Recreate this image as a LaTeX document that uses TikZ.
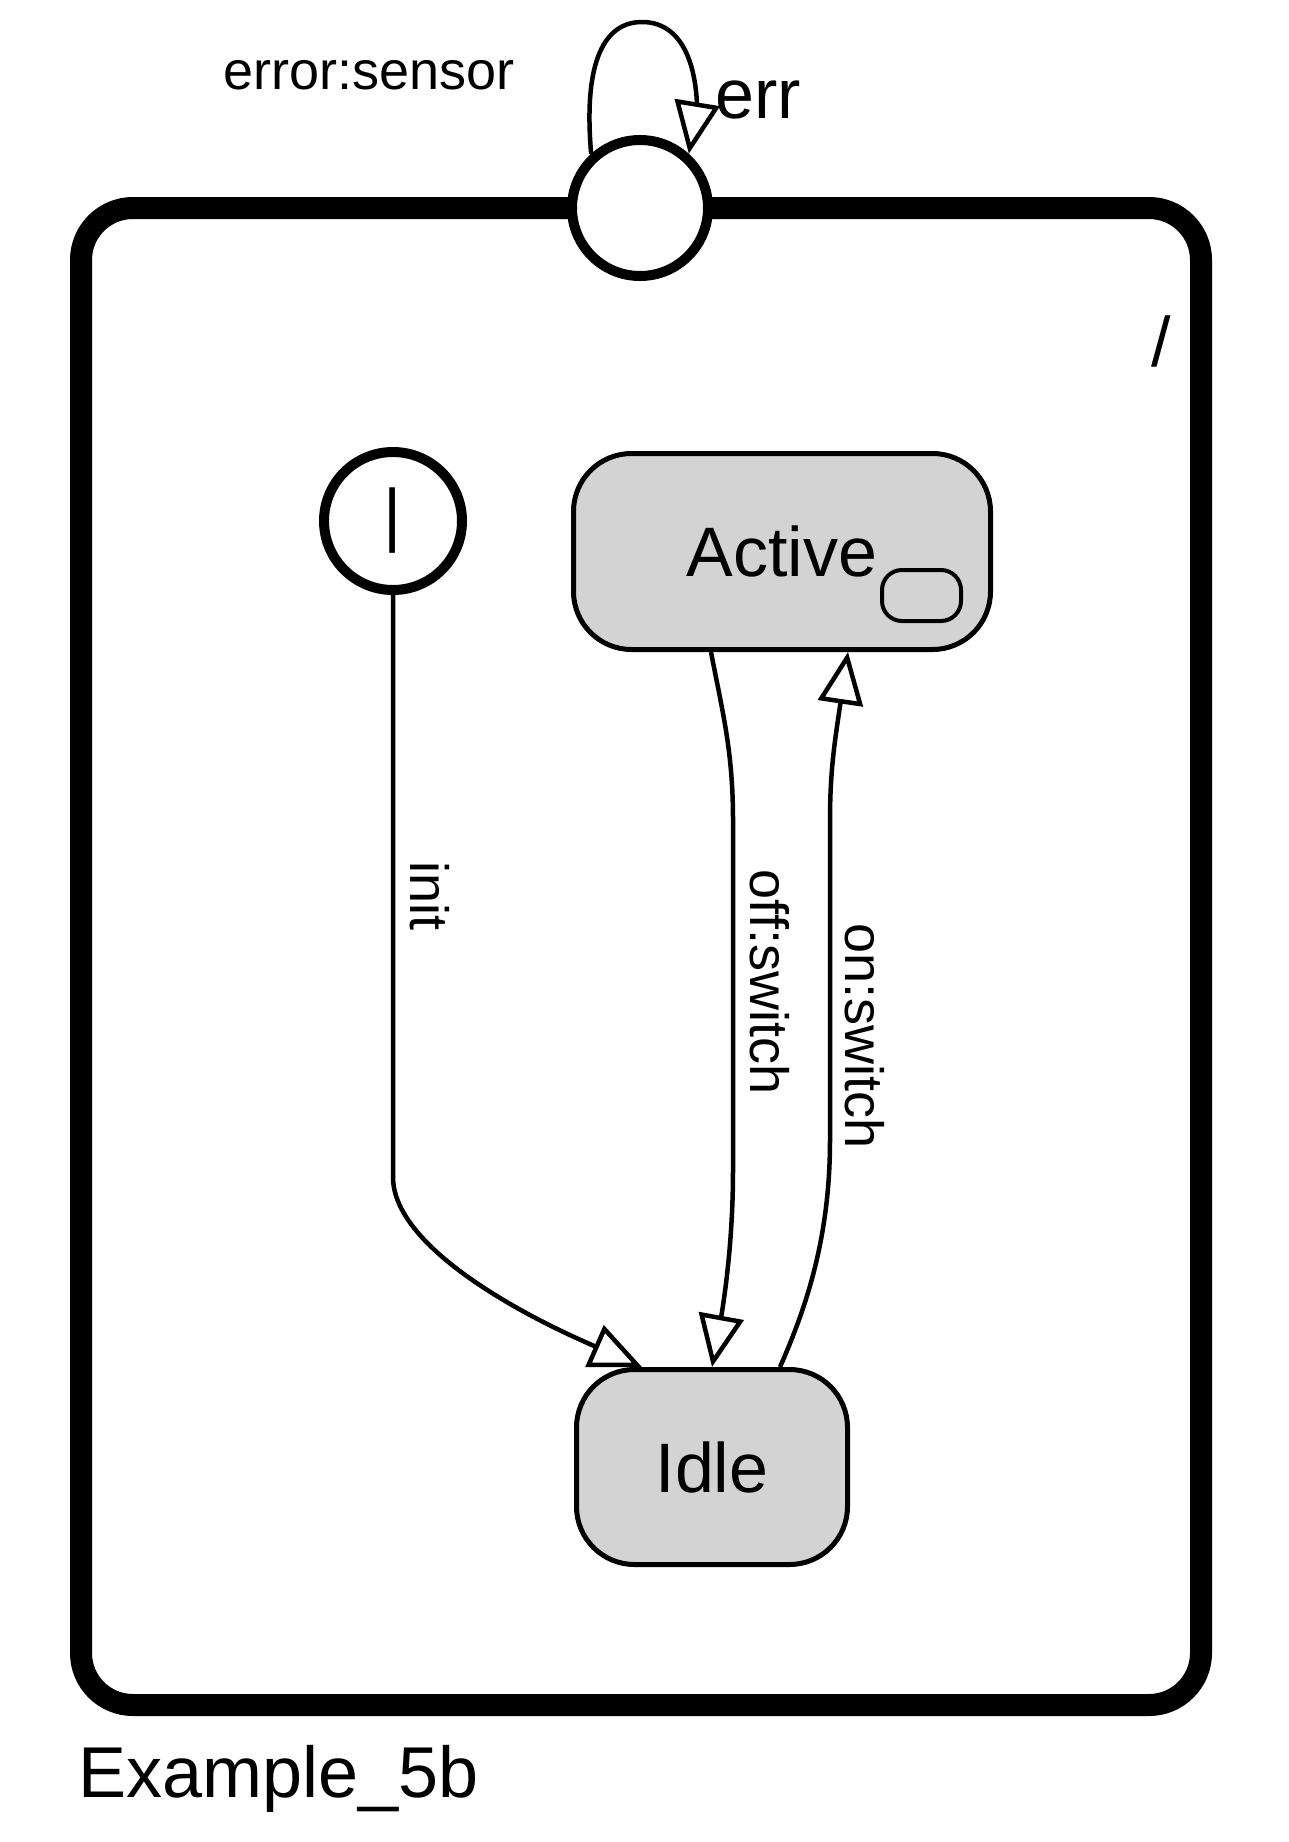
\documentclass[tikz,border=0pt]{standalone}
\usepackage{fontspec}
\setmainfont{Liberation Sans}
\usetikzlibrary{arrows.meta,calc}
\definecolor{stategray}{HTML}{D3D3D3}
\begin{document}
\begin{tikzpicture}[x=1pt,y=-1pt,
  state/.style={draw, line width=5pt, fill=stategray, rounded corners=58pt, inner sep=0pt},
  conn/.style={line width=4.5pt, -{Triangle[length=52pt,width=45pt,fill=white]}},
  big/.style={font=\fontsize{70pt}{84pt}\selectfont},
  lbl/.style={font=\fontsize{54pt}{64pt}\selectfont, inner sep=0pt},
]
\useasboundingbox (0,0) rectangle (1288,1842);
% outer composite state
\node[draw, line width=22pt, rounded corners=52pt, minimum width=1120pt, minimum height=1497pt, inner sep=0pt] (outer) at (641,956.5) {};
% exit point
\node[draw, circle, line width=10pt, fill=white, minimum size=136pt, inner sep=0pt] (ep) at (640,208) {};
% initial state
\node[draw, circle, line width=10pt, fill=white, minimum size=138pt, inner sep=0pt, big] (start) at (393,521) {|};
% states
\node[state, minimum width=417pt, minimum height=196pt, big] (active) at (782,551.5) {Active};
\node[draw, line width=4pt, rounded corners=20pt, minimum width=79pt, minimum height=51pt, inner sep=0pt] (sub) at (921.5,595.5) {};
\node[state, minimum width=271pt, minimum height=195pt, big] (idle) at (712,1467) {Idle};
% texts
\node[lbl, anchor=base] (errlbl) at (369,89) {error:sensor};
\node[big, inner sep=0pt, anchor=base west] (errname) at (715,118) {err};
\node[big, inner sep=0pt] (slash) at (1161,341) {/};
\node[lbl, rotate=-90] (initlbl) at (430,896) {init};
\node[lbl, rotate=-90] (offlbl) at (770,982) {off:switch};
\node[lbl, rotate=-90] (onlbl) at (865,1036) {on:switch};
\node[font=\fontsize{72pt}{86pt}\selectfont, inner sep=0pt, anchor=base west] (title) at (78,1797) {Example\_5b};
% connectors
\draw[conn] (ep.132) .. controls (583,60) and (605,22) .. (642,22) .. controls (680,22) and (695,60) .. (697,104) -- (ep.48);
\draw[conn] (start.south) -- (393,1177) .. controls (393,1240) and (500,1305) .. (592,1345) -- ([xshift=-70pt]idle.north);
\draw[conn] ([xshift=-71pt]active.south) .. controls (722,710) and (733,750) .. (733,820) -- (733,1170) .. controls (733,1230) and (727,1280) .. (722,1312) -- (idle.north);
\draw[conn] ([xshift=68pt]idle.north) .. controls (805,1310) and (830,1240) .. (830,1140) -- (830,820) .. controls (830,770) and (835,740) .. (840,706) -- ([xshift=66pt]active.south);
\end{tikzpicture}
\end{document}
